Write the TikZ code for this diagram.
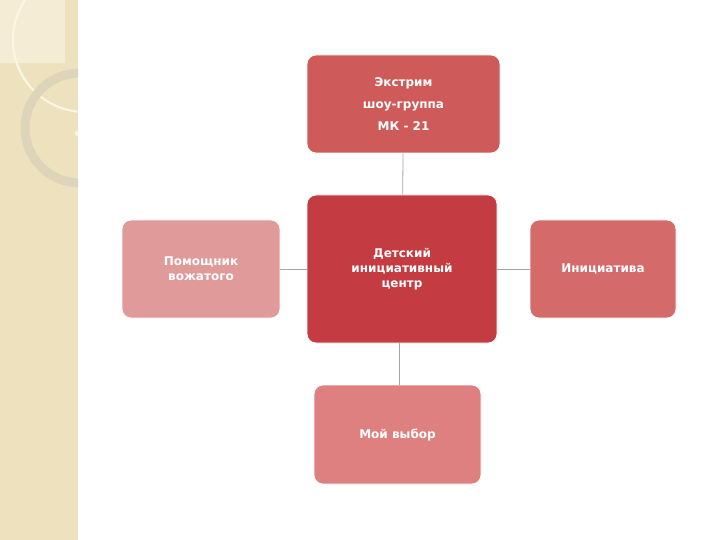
\documentclass[tikz,border=0pt]{standalone}
\usepackage{fontspec}
\setmainfont{DejaVu Sans}
\begin{document}
\begin{tikzpicture}[x=1pt,y=-1pt,
 box/.style={rounded corners=9pt,draw=white,line width=0.8pt,text=white,align=center,font=\bfseries\fontsize{12}{22}\selectfont,inner sep=0pt},
 con/.style={draw=gray!70,line width=0.8pt}]
\useasboundingbox (0,0) rectangle (720,540);
\fill[white] (0,0) rectangle (720,540);
\fill[color={rgb,255:red,238;green,226;blue,190}] (0,0) rectangle (78,540);
\fill[color={rgb,255:red,244;green,236;blue,212}] (0,0) rectangle (65,63);
\draw[color={rgb,255:red,250;green,244;blue,225},line width=2pt] (78,0) arc[start angle=0,end angle=0,radius=1] ;
\begin{scope}
\clip (0,0) rectangle (78,540);
\draw[color={rgb,255:red,252;green,246;blue,228},line width=2pt] (78,135) arc[start angle=90,end angle=250,radius=2] ;
\draw[color={rgb,255:red,252;green,246;blue,228},line width=2pt] (85,40) circle[radius=72];
\draw[color={rgb,255:red,222;green,212;blue,185},line width=9pt] (80,128) circle[radius=55];
\end{scope}
\node[box,fill={rgb,255:red,207;green,90;blue,90},minimum width=193pt,minimum height=98pt] (top) at (403.5,104) {Экстрим\\шоу-группа\\МК - 21};
\node[box,fill={rgb,255:red,196;green,60;blue,66},minimum width=190pt,minimum height=148pt,font=\bfseries\fontsize{12}{15}\selectfont] (c) at (402,269) {Детский\\инициативный\\центр};
\node[box,fill={rgb,255:red,224;green,154;blue,154},minimum width=158pt,minimum height=98pt,font=\bfseries\fontsize{12}{15}\selectfont] (l) at (201,269) {Помощник\\вожатого};
\node[box,fill={rgb,255:red,212;green,106;blue,106},minimum width=146pt,minimum height=98pt] (r) at (603,269) {Инициатива};
\node[box,fill={rgb,255:red,222;green,128;blue,128},minimum width=167pt,minimum height=99pt] (b) at (397.5,434.5) {Мой выбор};
\draw[con] (top) -- (c);
\draw[con] (l) -- (c);
\draw[con] (c) -- (r);
\draw[con] (c.south) ++(-3,0) coordinate (cs) -- (cs |- b.north);
\end{tikzpicture}
\end{document}
